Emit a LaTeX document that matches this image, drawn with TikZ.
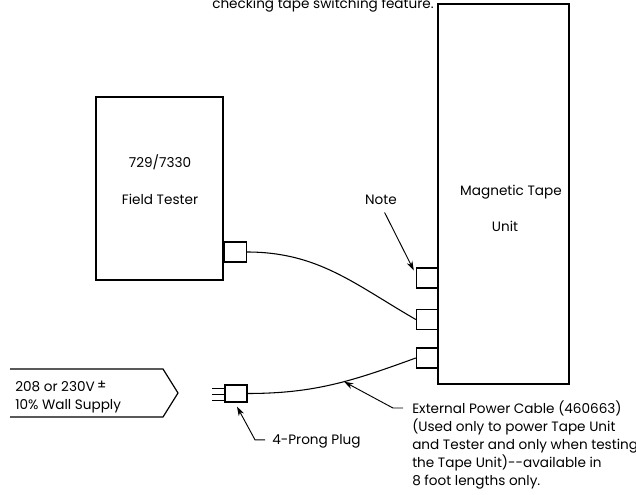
\documentclass[tikz,border=0pt]{standalone}
\usepackage{fontspec}
\setmainfont{Poppins}
\usetikzlibrary{positioning,arrows.meta,calc}

\begin{document}
\begin{tikzpicture}[x=0.75pt, y=-0.75pt,
    unitbox/.style={rectangle, draw, line width=0.9pt, inner sep=0pt},
    portbox/.style={rectangle, draw, line width=0.9pt, minimum width=16.5pt,
      minimum height=15pt, inner sep=0pt},
    cable/.style={line width=0.8pt},
    arr/.style={-{Stealth[length=7pt, width=4.5pt]}, line width=0.7pt},
    lbl/.style={font=\fontsize{10.2}{13.5}\selectfont, inner sep=0pt},
  ]
  \useasboundingbox (0,0) rectangle (636,495);

  \node[lbl, anchor=base west] (topnote) at (212,9) {checking tape switching feature.};

  % tape unit and its three sockets
  \node[unitbox, minimum width=98.25pt, minimum height=285pt] (tapeunit) at (503.5,194) {};
  \node[lbl, anchor=base] (tapename) at (511,196) {Magnetic Tape};
  \node[lbl, anchor=base] (tapeword) at (505,232) {Unit};

  \node[portbox, anchor=east] (port1) at (439,278) {};
  \node[portbox, anchor=east] (port2) at (439,319.5) {};
  \node[portbox, anchor=east] (port3) at (439,358) {};

  % field tester
  \node[unitbox, minimum width=95.25pt, minimum height=137.25pt] (tester) at (159.5,188.5) {};
  \node[lbl, anchor=base] (testernum) at (160,168) {729/7330};
  \node[lbl, anchor=base] (testername) at (160,205) {Field Tester};
  \node[portbox, anchor=west] (testerport) at (tester.east |- 0,252) {};

  % wall supply
  \draw[line width=0.9pt] (10,369) -- (163,369) -- (178,393) -- (163,417) -- (10,417);
  \node[lbl, align=left, anchor=base west] (supply) at (15,410)
    {208 or 230V\,\raisebox{2pt}{±}\\10\% Wall Supply};

  % plug
  \node[portbox, minimum height=12.75pt] (plug) at (236,393.5) {};
  \foreach \dy in {-5.5,0.5,6.5}
    \draw[line width=0.7pt] ($(plug.west)+(0,\dy)$) -- ++(-12,0);

  % cables
  \draw[cable] (testerport.east) to[out=0, in=150] (port2.west);
  \draw[cable] (plug.east) to[out=0, in=200] coordinate[pos=0.57] (cabletap) (port3.west);

  % labels with leaders
  \node[lbl, anchor=base] (notelbl) at (381,205) {Note};
  \draw[arr, shorten <=6pt] (notelbl.south) -- ($(port1.north west)+(-2,3)$);

  \node[lbl, anchor=base west] (pluglbl) at (272,445) {4-Prong Plug};
  \draw[arr] ($(pluglbl.west)+(-7,-2)$) -- ++(-10,0) -- ($(plug.south)+(1,4)$);

  \node[lbl, align=left, anchor=base west] (cablenote) at (412,485)
    {External Power Cable (460663)\\(Used only to power Tape Unit\\and Tester and only when testing\\the Tape Unit)-{}-available in\\8 foot lengths only.};
  \draw[arr] ($(cablenote.north west)+(-9,8)$) -- ++(-10,0) -- (cabletap);
\end{tikzpicture}
\end{document}
